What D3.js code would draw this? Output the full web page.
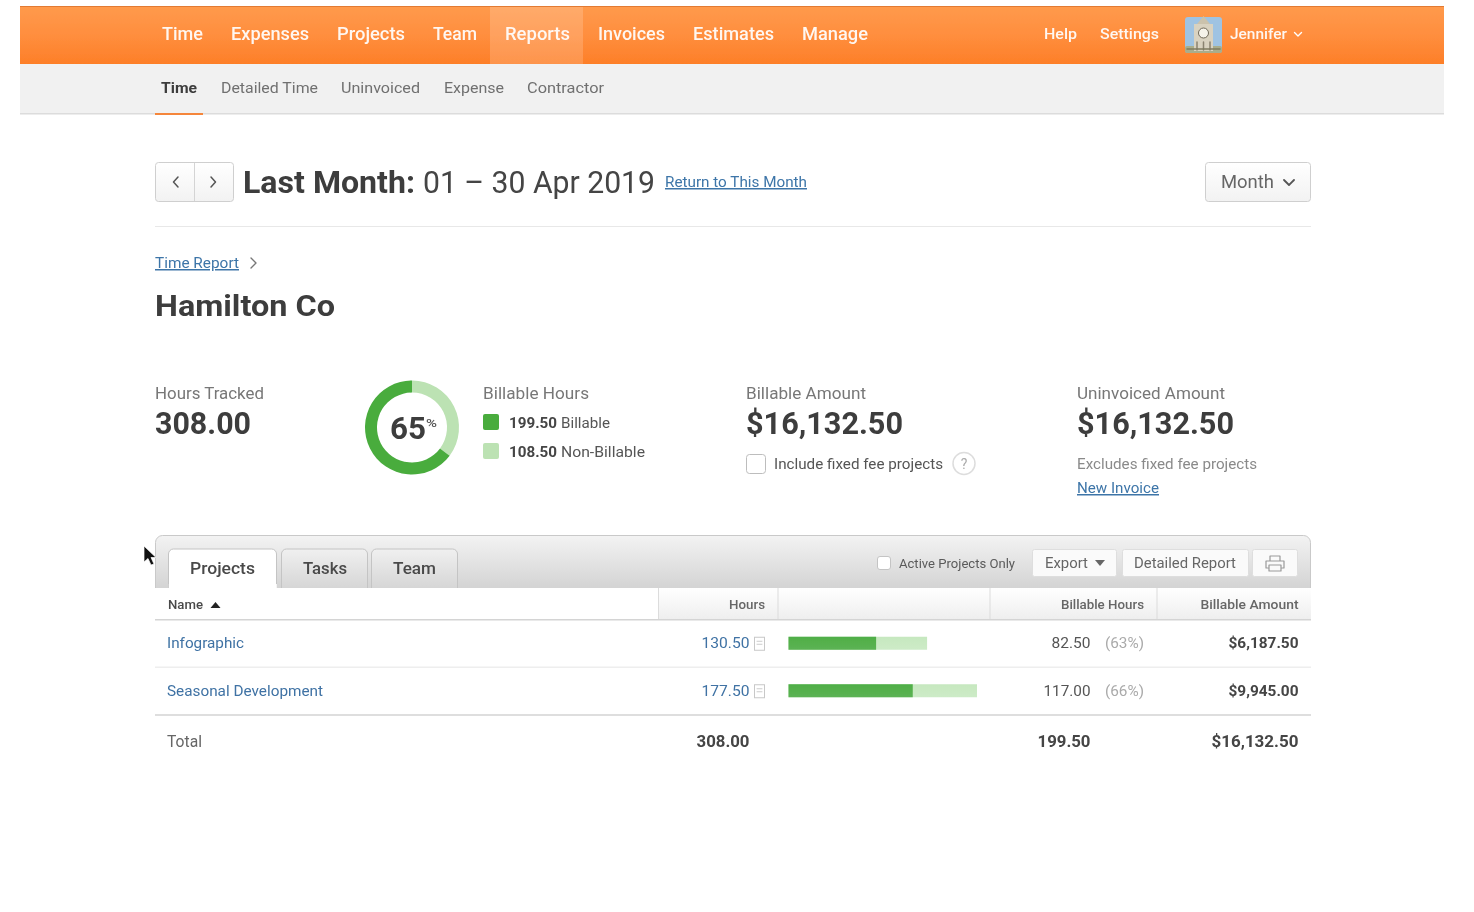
<!DOCTYPE html>
<html><head><meta charset="utf-8">
<script src="https://cdn.jsdelivr.net/npm/d3@7"></script>
<style>html,body{margin:0;padding:0;background:#fff;overflow:hidden}svg{display:block}text{font-family:Roboto,"Open Sans",sans-serif}</style>
</head><body><svg id="c" width="1474" height="912"></svg>
<script>
const navItems = ["Time","Expenses","Projects","Team","Reports","Invoices","Estimates","Manage"];
const subNavItems = ["Time","Detailed Time","Uninvoiced","Expense","Contractor"];
const tabs = ["Projects","Tasks","Team"];
const hoursSplit = [{name:"Non-Billable",value:108.5,color:"#bce2b3"},{name:"Billable",value:199.5,color:"#49ac3e"}];
const projects = ["Infographic","Seasonal Development"];
const hours = [130.5,177.5];
const billableHours = [82.5,117];
const billablePct = ["(63%)","(66%)"];
const billableAmount = ["$6,187.50","$9,945.00"];
const totals = ["308.00","199.50","$16,132.50"];

const svg = d3.select("#c");
const defs = svg.append("defs");
function grad(id,stops){const g=defs.append("linearGradient").attr("id",id).attr("x1",0).attr("x2",0).attr("y1",0).attr("y2",1);
 stops.forEach((c,i)=>g.append("stop").attr("offset",i/(stops.length-1)).attr("stop-color",c));}
grad("orange",["#ff9a4c","#ff8e3e","#fd7f28"]);
grad("panel",["#f3f3f3","#cfcfcf"]);
grad("tabg",["#f0f0f0","#d6d6d6"]);
grad("head",["#ffffff","#eeeeee"]);
grad("btn",["#ffffff","#f2f2f2"]);
grad("dark",["#4fae47","#5cb354"]);
grad("light",["#c6e8bf","#cdebc7"]);
defs.append("filter").attr("id","blur").attr("x","-5%").attr("y","-20%").attr("width","110%").attr("height","140%")
  .append("feGaussianBlur").attr("stdDeviation",0.45);

const root = svg.append("g").attr("filter","url(#blur)");
function t(x,y,s,size,fill,o={}){
 const e=root.append("text").attr("x",x).attr("y",y).text(s).attr("font-size",size).attr("fill",fill)
  .attr("font-weight",o.w||400).attr("text-anchor",o.a||"start");
 if(o.len)e.attr("textLength",o.len).attr("lengthAdjust","spacingAndGlyphs");
 if(o.u)e.attr("text-decoration","underline");
 return e;}
function r(x,y,w,h,fill,o={}){
 return root.append("rect").attr("x",x).attr("y",y).attr("width",w).attr("height",h).attr("fill",fill)
  .attr("rx",o.rx||0).attr("stroke",o.s||"none").attr("stroke-width",o.sw||1);}
function p(d,stroke,sw,fill){return root.append("path").attr("d",d).attr("stroke",stroke||"none").attr("stroke-width",sw||1).attr("fill",fill||"none").attr("stroke-linecap","round").attr("stroke-linejoin","round");}

// top bars
r(20,6,1424,58,"url(#orange)");
r(20,6,1424,1,"#e27a33");
r(490,7,93,57,"#ffffff").attr("opacity",0.17);
const navX=[162,231,337,433,505,598,693,802], navW=[41,78,68,44,65,67,81,66];
navItems.forEach((d,i)=>t(navX[i],40,d,18,"#fff",{w:500,len:navW[i]}).attr("opacity",0.93));
t(1044,39,"Help",15.5,"#fff",{w:500,len:33}).attr("opacity",.93);
t(1100,39,"Settings",15.5,"#fff",{w:500,len:59}).attr("opacity",.93);
// avatar
r(1185,17,37,36,"#9fc3e2",{rx:3});
r(1185,46,37,7,"#a9ad8c",{rx:2});
r(1194,24,19,27,"#d9d2c0");
p("M1197 24L1203.5 16L1210 24Z",null,1,"#cbc2ac");
root.append("circle").attr("cx",1203.5).attr("cy",33).attr("r",5).attr("fill","#f6f3ea").attr("stroke","#6f6857");
p("M1197 42V50M1203.5 42V50M1210 42V50","#8a8270",1.5);
p("M1187 49H1220","#7f7b5f",1.5);
t(1230,39,"Jennifer",15,"#fff",{w:500,len:57}).attr("opacity",.93);
p("M1294.5 32.5l3.5 3.5l3.5 -3.5","#fff",1.4);

r(20,64,1424,50,"#f1f1f1");
r(20,113,1424,1.5,"#dcdcdc");
r(155,113,48,2,"#f5863a");
const subX=[161,221,341,444,527], subW=[36,97,79,60,77];
subNavItems.forEach((d,i)=>t(subX[i],93,d,15.5,i?"#707070":"#3d3d3d",{w:i?400:700,len:subW[i]}));

// date row
r(155.5,162.5,78,39,"url(#btn)",{rx:3,s:"#cfcfcf"});
r(194,163,1,38,"#d4d4d4");
p("M178 177l-4.5 5l4.5 5","#555",1.5);
p("M211 177l4.5 5l-4.5 5","#555",1.5);
t(243,193,"Last Month:",31,"#3d3d3d",{w:700,len:172});
t(423,193,"01 – 30 Apr 2019",31,"#444",{len:232});
t(665,187,"Return to This Month",15,"#3d75a8",{u:1,len:142});
r(1205.5,162.5,105,39,"url(#btn)",{rx:3,s:"#cfcfcf"});
t(1221,188,"Month",18.5,"#666",{len:53});
p("M1284 180l5 5l5 -5","#555",1.8);
r(155,226,1156,1,"#e8e8e8");

// breadcrumb and title
t(155,268,"Time Report",15,"#3d75a8",{u:1,len:84});
p("M251 258l5 5l-5 5","#777",1.4);
t(155,316,"Hamilton Co",30,"#3d3d3d",{w:700,len:180});

// summary
t(155,399,"Hours Tracked",16.5,"#777",{len:109});
t(155,434,"308.00",31.5,"#3d3d3d",{w:700,len:96});

const pie=d3.pie().value(d=>d.value).sort(null);
const arc=d3.arc().innerRadius(35).outerRadius(47);
root.append("g").attr("transform","translate(412,427.5)").selectAll("path").data(pie(hoursSplit)).join("path")
 .attr("d",arc).attr("fill",d=>d.data.color);
t(390,439,"65",31,"#3d3d3d",{w:700,len:36});
t(426,427,"%",11,"#555",{w:500,len:11});

t(483,399,"Billable Hours",16.5,"#777",{len:106});
r(483,414,16,16,"#49ac3e",{rx:2});
r(483,443,16,16,"#bce2b3",{rx:2});
t(509,428,"199.50",15,"#444",{w:700,len:48});
t(561,428,"Billable",15,"#555",{len:49});
t(509,457,"108.50",15,"#444",{w:700,len:48});
t(561,457,"Non-Billable",15,"#555",{len:84});

t(746,399,"Billable Amount",16.5,"#777",{len:120});
t(746,434,"$16,132.50",31.5,"#3d3d3d",{w:700,len:157});
r(746.5,454.5,19,19,"#fff",{rx:3,s:"#bdbdbd"});
t(774,469,"Include fixed fee projects",15,"#555",{len:169});
root.append("circle").attr("cx",964).attr("cy",463.5).attr("r",11).attr("fill","#fff").attr("stroke","#ddd").attr("stroke-width",1.5);
t(964,469,"?",14,"#aaa",{a:"middle"});

t(1077,399,"Uninvoiced Amount",16.5,"#777",{len:148});
t(1077,434,"$16,132.50",31.5,"#3d3d3d",{w:700,len:157});
t(1077,469,"Excludes fixed fee projects",15,"#8a8a8a",{len:180});
t(1077,493,"New Invoice",15,"#3d75a8",{u:1,len:82});

// panel
r(155.5,535.5,1155,60,"url(#panel)",{rx:7,s:"#c9c9c9"});
r(155,588,1156,32,"#fff");
// tabs
const tabX=[168,281,371], tabWd=[109,87,87], tabTX=[190,303,393], tabTW=[65,44,43];
tabs.forEach((d,i)=>{
 root.append("path").attr("d",`M${tabX[i]+.5} 588V554a5 5 0 0 1 5 -5H${tabX[i]+tabWd[i]-5.5}a5 5 0 0 1 5 5V588`)
  .attr("fill",i?"url(#tabg)":"#fff").attr("stroke","#c4c4c4");
 t(tabTX[i],574,d,17,"#4a4a4a",{w:500,len:tabTW[i]});
});
r(168.8,584,108,6,"#fff");
// toolbar
r(877.5,556.5,13,13,"#fff",{rx:2.5,s:"#c4c4c4"});
t(899,567.5,"Active Projects Only",13.5,"#5a5a5a",{len:116});
r(1032.5,549.5,84,27,"#fafafa",{rx:2,s:"#dedede"});
t(1045,568,"Export",14,"#666",{len:43});
p("M1095 560h10l-5 6z",null,1,"#666");
r(1122.5,549.5,126,27,"#fafafa",{rx:2,s:"#dedede"});
t(1134,568,"Detailed Report",14,"#666",{len:102});
r(1252.5,549.5,45,27,"#fafafa",{rx:2,s:"#dedede"});
p("M1270 561v-5h10v5M1268 568h-2v-7h18v7h-2M1269 565h12v6h-12z","#999",1.2);

// table head
r(658,588,653,32,"url(#head)");
[658,777.5,989.5,1156.5].forEach(x=>r(x,588,1,32,"#dcdcdc"));
r(155,619,1156,1.5,"#d4d4d4");
t(168,608.5,"Name",13,"#4a4a4a",{w:500,len:35});
p("M210.5 608l5 -6l5 6z",null,1,"#222");
t(765,608.5,"Hours",13,"#666",{w:500,a:"end",len:36});
t(1144,608.5,"Billable Hours",13,"#666",{w:500,a:"end",len:83});
t(1298.5,608.5,"Billable Amount",13,"#666",{w:500,a:"end",len:98});

// rows
const rowY=d3.scaleBand().domain(projects).range([620,715]);
const barX=d3.scaleLinear().domain([0,d3.max(hours)]).range([788.5,977]);
const nameW=[77,156], billW=[39,47], amtW=[70,70];
projects.forEach((name,i)=>{
 const y=rowY(name), c=y+rowY.bandwidth()/2;
 t(167,c+4.5,name,15,"#3f72a4",{len:nameW[i]});
 t(749.5,c+4.5,hours[i].toFixed(2),15,"#3f72a4",{a:"end",len:48});
 r(754.5,c-6.5,10,13,"#fff",{s:"#c8c8c8"});
 p(`M757 ${c-2.5}h5M757 ${c+.5}h5`,"#ccc",1);
 r(barX(0),c-7,barX(hours[i])-barX(0),13,"url(#light)");
 r(barX(0),c-7,barX(billableHours[i])-barX(0),13,"url(#dark)");
 t(1090.5,c+4.5,billableHours[i].toFixed(2),15,"#555",{a:"end",len:billW[i]});
 t(1144,c+4.5,billablePct[i],15,"#aaa",{a:"end",len:39});
 t(1298.5,c+4.5,billableAmount[i],15,"#444",{w:700,a:"end",len:amtW[i]});
 r(155,y+rowY.bandwidth()-1,1156,i?2:1.5,i?"#dedede":"#eeeeee");
});
t(167,746.5,"Total",16,"#666",{len:35});
t(749.5,746.5,totals[0],16.5,"#444",{w:700,a:"end",len:53});
t(1090.5,746.5,totals[1],16.5,"#444",{w:700,a:"end",len:53});
t(1298.5,746.5,totals[2],16.5,"#444",{w:700,a:"end",len:87});

// cursor
svg.append("path").attr("d","M144 546V562L148 558.5L151 565L154 564L151 557.5H156Z").attr("fill","#111").attr("stroke","#fff").attr("stroke-width",.7);
</script></body></html>
